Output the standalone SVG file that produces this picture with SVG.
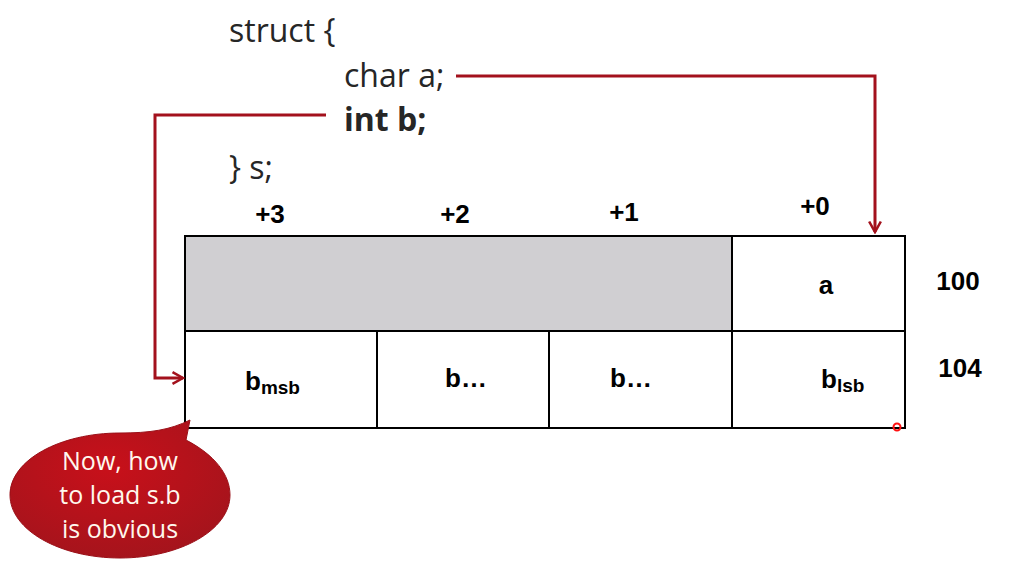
<svg xmlns="http://www.w3.org/2000/svg" width="1022" height="578" viewBox="0 0 1022 578">
<defs>
<style>
.code{font-family:"Open Sans","Noto Sans",sans-serif;font-size:32px;fill:#262626}
.lbl{font-family:"Liberation Sans",Arial,sans-serif;font-weight:bold;font-size:26px;fill:#000}
.sub{font-size:19px}
.cell{fill:#fff;stroke:#000;stroke-width:2}
.conn{fill:none;stroke:#a3111c;stroke-width:3}
.bub{font-family:"Open Sans","Noto Sans",sans-serif;font-size:25px;fill:#fff8ee;text-anchor:middle}
</style>
<marker id="chev2" viewBox="0 0 12 12" refX="10" refY="6" markerWidth="14" markerHeight="14" orient="auto" markerUnits="userSpaceOnUse">
<path d="M1,1 L10,6 L1,11" fill="none" stroke="#a3111c" stroke-width="2.2"/>
</marker>
<radialGradient id="bg" cx="0.45" cy="0.35" r="0.7">
<stop offset="0" stop-color="#c8101a"/>
<stop offset="1" stop-color="#a3141c"/>
</radialGradient>
</defs>
<rect width="1022" height="578" fill="#fff"/>
<g id="code">
<text class="code" x="229" y="42">struct {</text>
<text class="code" x="344" y="87">char a;</text>
<text class="code" x="344" y="131" font-weight="bold">int b;</text>
<text class="code" x="229" y="179">} s;</text>
</g>
<g id="offsets">
<text class="lbl" x="270" y="223" text-anchor="middle">+3</text>
<text class="lbl" x="455" y="223" text-anchor="middle">+2</text>
<text class="lbl" x="624" y="221" text-anchor="middle">+1</text>
<text class="lbl" x="815" y="215" text-anchor="middle">+0</text>
</g>
<g id="table">
<rect id="pad" x="185" y="236" width="547" height="95" fill="#d0cfd2" stroke="#000" stroke-width="2"/>
<rect id="cell-a" class="cell" x="732" y="236" width="173" height="95"/>
<rect id="cell-b3" class="cell" x="185" y="331" width="192" height="97"/>
<rect id="cell-b2" class="cell" x="377" y="331" width="172" height="97"/>
<rect id="cell-b1" class="cell" x="549" y="331" width="183" height="97"/>
<rect id="cell-b0" class="cell" x="732" y="331" width="173" height="97"/>
<text class="lbl" x="826" y="294" text-anchor="middle">a</text>
<text class="lbl" x="245" y="390">b<tspan class="sub" dy="4">msb</tspan></text>
<text class="lbl" x="445" y="387">b…</text>
<text class="lbl" x="610" y="387">b…</text>
<text class="lbl" x="821" y="388">b<tspan class="sub" dy="4">lsb</tspan></text>
</g>
<g id="addresses">
<text class="lbl" x="958" y="290" text-anchor="middle">100</text>
<text class="lbl" x="960" y="377" text-anchor="middle">104</text>
</g>
<g id="connectors">
<path class="conn" d="M456,76 H875 V232" marker-end="url(#chev2)"/>
<path class="conn" d="M326,115 H155 V378 H183" marker-end="url(#chev2)"/>
</g>
<g id="bubble">
<path d="M120,433 C150,433 170,430 190,420 L186,440 C215,455 230,475 230,495 C230,530 180,558 120,558 C60,558 10,530 10,495 C10,460 60,433 120,433 Z" fill="url(#bg)" stroke="#9a1018" stroke-width="1"/>
<text class="bub" x="120" y="470">Now, how</text>
<text class="bub" x="120" y="504">to load s.b</text>
<text class="bub" x="120" y="538">is obvious</text>
</g>
<circle id="pointer" cx="897" cy="427" r="3.5" fill="none" stroke="#ff1010" stroke-width="2"/>
</svg>
